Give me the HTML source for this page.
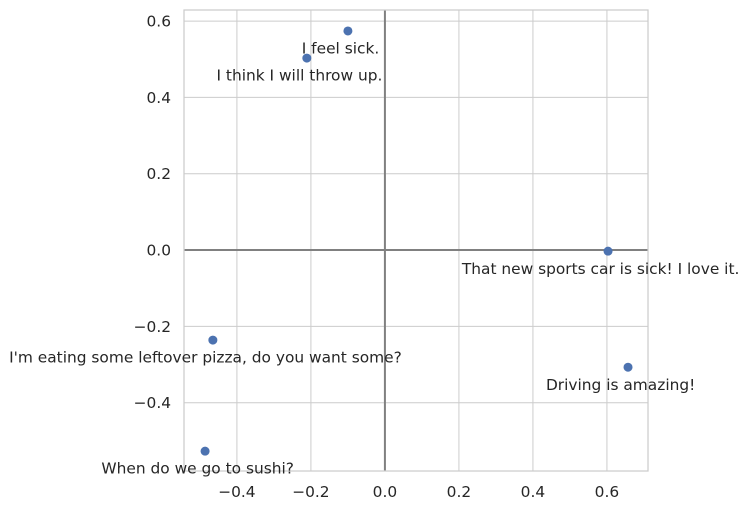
<!DOCTYPE html>
<html><head><meta charset="utf-8"><style>
html,body{margin:0;padding:0;background:#fff;}
svg{display:block;font-family:"DejaVu Sans","Liberation Sans",sans-serif;}
</style></head><body>
<svg id="chart" width="748" height="510" viewBox="0 0 748 510" xmlns="http://www.w3.org/2000/svg">
<g id="grid"></g>
<g id="axes"></g>
<rect x="184" y="10" width="464" height="461" fill="none" stroke="#ccc" stroke-width="1.25"/>
<g id="points"></g>
<g id="labels"></g>
</svg>
<script>
const sentences = ["I feel sick.","I think I will throw up.","That new sports car is sick! I love it.","I'm eating some leftover pizza, do you want some?","Driving is amazing!","When do we go to sushi?"];
const xValues = [-0.10,-0.211,0.603,-0.465,0.657,-0.486];
const yValues = [0.574,0.503,-0.003,-0.236,-0.307,-0.527];
const xTicks = [-0.4,-0.2,0.0,0.2,0.4,0.6];
const yTicks = [-0.4,-0.2,0.0,0.2,0.4,0.6];
const xTickLabels = ["\u22120.4","\u22120.2","0.0","0.2","0.4","0.6"];
const yTickLabels = ["\u22120.4","\u22120.2","0.0","0.2","0.4","0.6"];

const L=184,R=648,T=10,B=471;
const xMin=-0.543,xMax=0.711,yMin=-0.579,yMax=0.629;
const sx=v=>L+(v-xMin)/(xMax-xMin)*(R-L);
const sy=v=>B-(v-yMin)/(yMax-yMin)*(B-T);
const NS="http://www.w3.org/2000/svg";
const FS=15.4;
function mk(tag,attrs,parent){const e=document.createElementNS(NS,tag);for(const k in attrs)e.setAttribute(k,attrs[k]);parent.appendChild(e);return e;}
const grid=document.getElementById('grid'),axes=document.getElementById('axes'),pts=document.getElementById('points'),lbl=document.getElementById('labels');
xTicks.forEach((t,i)=>{
  const g=mk('line',{x1:sx(t),x2:sx(t),y1:T,y2:B,stroke:'#ccc','stroke-width':1},grid);
  
  
  const tx=mk('text',{x:sx(t),y:B+26,'text-anchor':'middle','font-size':FS,fill:'#262626'},axes);
  tx.textContent=xTickLabels[i];
  
  
});
yTicks.forEach((t,i)=>{
  const g=mk('line',{x1:L,x2:R,y1:sy(t),y2:sy(t),stroke:'#ccc','stroke-width':1},grid);
  
  
  const tx=mk('text',{x:L-13,y:sy(t)+5.5,'text-anchor':'end','font-size':FS,fill:'#262626'},axes);
  tx.textContent=yTickLabels[i];
  
  
});
const h=mk('line',{x1:L,x2:R,y1:sy(0),y2:sy(0),stroke:'#808080','stroke-width':2},axes);


const v=mk('line',{x1:sx(0),x2:sx(0),y1:T,y2:B,stroke:'#808080','stroke-width':2},axes);


xValues.forEach((x,i)=>{
  const c=mk('circle',{cx:sx(x),cy:sy(yValues[i]),r:4.5,fill:'#4c72b0'},pts);
  
  
  const t=mk('text',{x:sx(x-0.02),y:sy(yValues[i]-0.05)+3.5,'text-anchor':'middle','font-size':FS,fill:'#262626'},lbl);
  t.textContent=sentences[i];
  
  
});
</script>
</body></html>
